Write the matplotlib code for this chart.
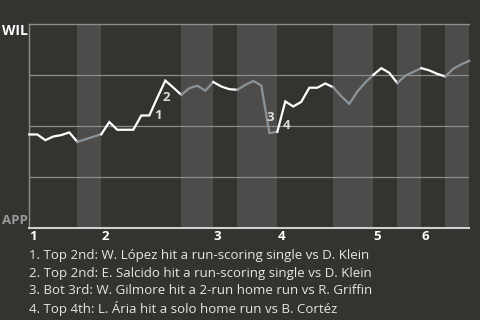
import matplotlib
matplotlib.use("Agg")
import matplotlib.pyplot as plt

# ---- data ----
wp = [0.46, 0.46, 0.432, 0.45, 0.457, 0.47, 0.424, 0.436, 0.449, 0.461,
      0.521, 0.483, 0.483, 0.483, 0.553, 0.553, 0.64, 0.724, 0.69, 0.654,
      0.687, 0.699, 0.675, 0.717, 0.695, 0.682, 0.679, 0.703, 0.722, 0.70,
      0.467, 0.473, 0.622, 0.597, 0.62, 0.689, 0.689, 0.71, 0.691, 0.647,
      0.61, 0.67, 0.715, 0.752, 0.785, 0.762, 0.712, 0.748, 0.767, 0.785,
      0.774, 0.757, 0.744, 0.782, 0.804, 0.821]
half_inning_bounds = [0, 6, 9, 19, 23, 26, 31, 38, 43, 46, 49, 52, 55]
inning_labels = ["1", "2", "3", "4", "5", "6"]
event_segments = [15, 16, 29, 31]
event_labels = ["1", "2", "3", "4"]
event_texts = [
    "1. Top 2nd: W. López hit a run-scoring single vs D. Klein",
    "2. Top 2nd: E. Salcido hit a run-scoring single vs D. Klein",
    "3. Bot 3rd: W. Gilmore hit a 2-run home run vs R. Griffin",
    "4. Top 4th: L. Ária hit a solo home run vs B. Cortéz",
]
top_team = "WIL"
bottom_team = "APP"

# ---- style ----
BG = "#353330"
BAND = "#4d4c4a"
GRID = "#8c8c8a"
WHITE = "#ffffff"
GRAYLINE = "#8a949a"
TEXT = "#e6e6e6"
plt.rcParams['font.family'] = ['Open Sans', 'DejaVu Sans']

fig = plt.figure(figsize=(4.8, 3.2), dpi=100, facecolor=BG)
ax = fig.add_axes([29.3 / 480, 1 - 228.3 / 320, 440 / 480, 204 / 320])
ax.set_facecolor(BG)
ax.set_xlim(0, len(wp) - 1)
ax.set_ylim(0, 1)

x = list(range(len(wp)))

# bands for bottom halves and line segments
for k in range(len(half_inning_bounds) - 1):
    a, b = half_inning_bounds[k], half_inning_bounds[k + 1]
    is_bottom = k % 2 == 1
    if is_bottom:
        ax.axvspan(a, b, color=BAND, lw=0, zorder=0)
    ax.plot(x[a:b + 1], wp[a:b + 1], color=GRAYLINE if is_bottom else WHITE,
            lw=1.6, solid_joinstyle='miter', zorder=3, clip_on=False)

for gy in [0.25, 0.5, 0.75]:
    ax.axhline(gy, color=GRID, lw=0.9, zorder=1)

ax.spines['right'].set_visible(False)
ax.spines['left'].set_color(GRID)
ax.spines['top'].set_color(GRID)
ax.spines['left'].set_linewidth(1)
ax.spines['top'].set_linewidth(1)
ax.spines['bottom'].set_color("#cfcfcf")
ax.spines['bottom'].set_linewidth(1.5)

ax.set_yticks([])
inning_starts = half_inning_bounds[0:-1:2]
ax.set_xticks(inning_starts)
ax.set_xticklabels(inning_labels, ha='left', color=WHITE, fontsize=9.5,
                   fontweight='bold')
ax.tick_params(axis='x', length=0, pad=1.5)

# team labels
fig.text(2 / 480, 1 - 31 / 320, top_team, color=WHITE, fontsize=10,
         fontweight='bold', va='center', ha='left')
fig.text(2 / 480, 1 - 221 / 320, bottom_team, color="#9a9a9a", fontsize=9.5,
         fontweight='bold', va='center', ha='left')

# event markers
for seg, lab in zip(event_segments, event_labels):
    mx = (x[seg] + x[seg + 1]) / 2
    my = (wp[seg] + wp[seg + 1]) / 2
    ax.annotate(lab, (mx, my), xytext=(5, -8.5), textcoords='offset pixels',
                ha='center', va='center', color="#dcdcdc", fontsize=9.5,
                fontweight='bold', zorder=4)

# event descriptions
for i, t in enumerate(event_texts):
    fig.text(29 / 480, 1 - (255 + 18 * i) / 320, t, color=TEXT, fontsize=9.5,
             va='center', ha='left')

fig.savefig("out.png", dpi=100, facecolor=BG)
